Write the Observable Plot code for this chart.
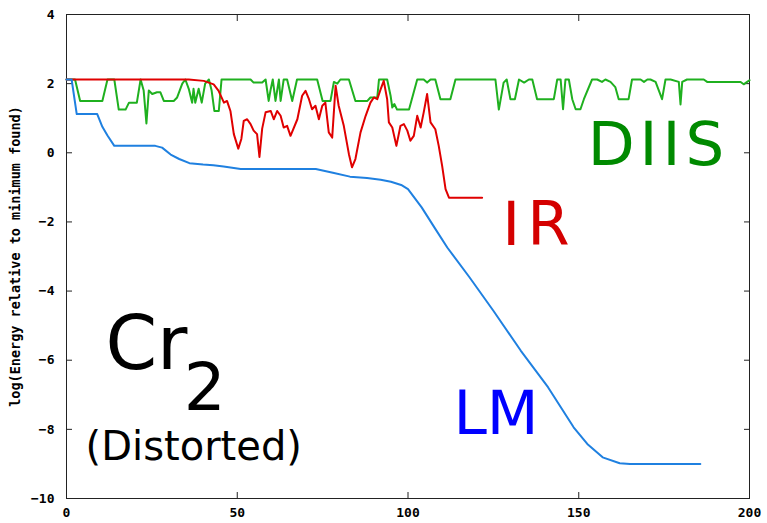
<!DOCTYPE html>
<html>
<head>
<meta charset="utf-8">
<script src="https://cdn.jsdelivr.net/npm/d3@7"></script>
<script src="https://cdn.jsdelivr.net/npm/@observablehq/plot@0.6"></script>
<style>
  html, body { margin: 0; padding: 0; background: #fff; }
  #chart svg { display: block; }
</style>
</head>
<body>
<div id="chart"></div>
<script>
// Iteration (x) and log energy (y) per method
const lmX = [0, 1.5, 3, 9, 10.5, 12, 14, 26, 28, 30.5, 33, 36, 40, 43, 46, 51, 73, 78, 83, 88, 92, 95, 98, 100, 104, 108, 111.5, 118, 125, 133, 141, 148.5, 152.5, 157, 162, 165, 185.6];
const lmY = [2.12, 2.12, 1.12, 1.12, 0.75, 0.5, 0.2, 0.2, 0.15, -0.05, -0.18, -0.30, -0.34, -0.36, -0.40, -0.47, -0.47, -0.58, -0.69, -0.73, -0.78, -0.84, -0.93, -1.05, -1.58, -2.2, -2.74, -3.6, -4.57, -5.72, -6.78, -7.94, -8.42, -8.81, -8.98, -9.0, -9.0];

const irX = [0, 35.8, 40.2, 43.1, 44.5, 46.1, 47, 48, 49, 50.3, 51.2, 51.9, 52.9, 53.9, 54.8, 55.8, 56.5, 57.3, 58.3, 59.8, 60.7, 61.7, 62.7, 63.6, 64.6, 65.6, 67.6, 69, 70, 71, 71.9, 72.9, 73.9, 74.9, 75.8, 76.8, 77.8, 78.8, 79.7, 81.2, 82.7, 83.6, 84.6, 86.1, 87.6, 89, 90, 91, 92, 92.9, 93.9, 94.4, 95.4, 96.6, 97.8, 98.8, 99.8, 100.7, 101.7, 102.7, 103.7, 104.6, 105.6, 106.6, 108, 109, 110, 111, 112, 121.7];
const irY = [2.12, 2.12, 2.08, 1.98, 1.8, 1.45, 1.5, 1.21, 0.54, 0.12, 0.4, 0.92, 0.97, 0.83, 0.64, 0.54, -0.12, 0.7, 1.17, 1.21, 0.97, 1.21, 1.07, 0.73, 0.78, 0.49, 0.97, 1.65, 1.79, 1.55, 1.26, 1.36, 0.97, 1.36, 1.45, 0.59, 0.44, 1.94, 1.36, 0.78, -0.04, -0.42, -0.18, 0.59, 1.07, 1.45, 1.6, 1.55, 1.84, 2.08, 1.55, 0.88, 0.73, 0.2, 0.78, 0.83, 0.64, 0.35, 0.49, 1.07, 0.73, 1.17, 1.7, 0.88, 0.68, 0.2, -0.38, -1.05, -1.3, -1.3];

const diisX = [0, 2.5, 4, 10.5, 12, 14, 15.3, 17.3, 18.3, 20.6, 21.7, 22.6, 23.4, 24.1, 25.1, 26.5, 27.5, 28.5, 31.4, 32.4, 33.9, 34.8, 35.8, 36.8, 37.2, 37.7, 38.7, 39.6, 40.6, 41.7, 42.5, 43.3, 44.6, 45.4, 53.9, 54.8, 57.3, 58.3, 59.2, 59.8, 60.4, 61.2, 62.2, 62.7, 63.6, 64.6, 66.1, 67.5, 73.4, 75, 77.3, 78.3, 79.3, 80.2, 82.7, 84.6, 88.1, 89, 91, 91.5, 93.9, 94.9, 95.4, 96, 96.8, 100.3, 102.7, 104.6, 105.6, 106.6, 108, 109.5, 112.4, 113.9, 125.6, 126.6, 128, 128.9, 130, 131.3, 132.5, 134, 135.4, 136.4, 137.8, 142.7, 143.7, 144.7, 145.4, 146.1, 147.1, 148.1, 149.1, 150.5, 151.5, 153.9, 155.4, 156.8, 157.8, 159.3, 160.7, 161.7, 164.6, 165.6, 168.1, 169.1, 170.1, 171, 172.5, 174.4, 175.4, 176.9, 179.3, 179.8, 180.3, 181.7, 186.6, 187.6, 197.4, 198.3, 199.3, 200];
const diisY = [2.12, 2.12, 1.5, 1.5, 2.12, 2.12, 1.25, 1.25, 1.45, 1.45, 2.12, 1.8, 0.85, 1.8, 1.7, 1.75, 1.75, 1.5, 1.5, 1.6, 2.0, 2.12, 1.85, 1.45, 1.85, 1.45, 1.85, 1.45, 2.0, 2.12, 1.8, 1.21, 1.21, 2.12, 2.12, 2.03, 2.03, 2.12, 1.5, 1.84, 2.12, 1.5, 2.12, 1.5, 2.12, 2.12, 1.5, 2.12, 2.12, 1.5, 1.5, 2.05, 2.0, 2.12, 2.12, 1.5, 1.5, 1.6, 1.6, 2.12, 2.12, 1.65, 1.31, 1.41, 1.25, 1.25, 2.12, 2.12, 2.03, 2.12, 2.12, 1.55, 1.55, 2.12, 2.12, 1.25, 2.03, 2.12, 1.55, 1.55, 2.12, 2.03, 2.12, 2.12, 1.55, 1.55, 2.12, 2.12, 1.26, 2.12, 2.12, 1.55, 1.26, 1.26, 1.55, 2.12, 2.12, 2.05, 2.12, 2.05, 1.9, 1.55, 1.55, 2.12, 2.12, 2.05, 2.12, 2.12, 2.05, 1.55, 2.12, 2.12, 2.05, 1.4, 2.05, 2.12, 2.12, 2.05, 2.05, 1.98, 2.05, 2.1];

const xTicks = [0, 50, 100, 150, 200];
const yTicks = [-10, -8, -6, -4, -2, 0, 2, 4];
const yLabel = "log(Energy relative to minimum found)";

// Annotations: text, anchor point in data units
const labelText = ["DIIS", "IR", "LM", "Cr", "2", "(Distorted)"];
const labelX = [152.6, 127.6, 113.3, 11.4, 34.3, 5.6];
const labelY = [-0.35, -2.66, -8.12, -6.24, -7.45, -8.88];
const labelColor = ["#008a00", "#d40000", "#0000ff", "#000000", "#000000", "#000000"];
const labelSize = [61, 61, 60, 74, 66, 40];
const labelSpacing = [5, 7, 0, 0, 0, 0];

const toRows = (xs, ys) => xs.map((x, i) => ({x, y: ys[i]}));
const labels = labelText.map((t, i) => ({t, x: labelX[i], y: labelY[i], c: labelColor[i], s: labelSize[i]}));

const tickFont = "DejaVu Sans Mono, monospace";

const chart = Plot.plot({
  width: 767,
  height: 523,
  marginLeft: 66,
  marginRight: 18,
  marginTop: 14,
  marginBottom: 25,
  style: {background: "#fff", fontFamily: tickFont},
  x: {domain: [0, 200]},
  y: {domain: [-10, 4]},
  marks: [
    Plot.frame({stroke: "#222", strokeWidth: 1}),
    Plot.axisX(xTicks, {anchor: "bottom", tickSize: -6, tickPadding: 15, label: null, fontSize: 13, fontWeight: "bold", stroke: "#222"}),
    Plot.axisX(xTicks, {anchor: "top", tickSize: -6, tickFormat: () => "", label: null, stroke: "#222"}),
    Plot.axisY(yTicks, {anchor: "left", tickSize: -6, tickPadding: 18, label: null, fontSize: 13, fontWeight: "bold", stroke: "#222"}),
    Plot.axisY(yTicks, {anchor: "right", tickSize: -6, tickFormat: () => "", label: null, stroke: "#222"}),
    Plot.text([yLabel], {frameAnchor: "left", textAnchor: "middle", rotate: -90, dx: -51, fontSize: 13.5, fontWeight: "bold", fill: "#000"}),
    Plot.line(toRows(diisX, diisY), {x: "x", y: "y", stroke: "#1fb01f", strokeWidth: 2}),
    Plot.line(toRows(irX, irY), {x: "x", y: "y", stroke: "#e00000", strokeWidth: 2}),
    Plot.line(toRows(lmX, lmY), {x: "x", y: "y", stroke: "#1f80e0", strokeWidth: 2}),
    Plot.text(labels, {x: "x", y: "y", text: "t", fill: "c", fontSize: "s", textAnchor: "start", lineAnchor: "bottom", fontFamily: "DejaVu Sans, sans-serif"})
  ]
});
// widen the annotation lettering a little (reference uses a wider face)
d3.select(chart).selectAll("text").each(function () {
  const i = labelText.indexOf(this.textContent);
  if (i >= 0 && labelSpacing[i]) this.setAttribute("letter-spacing", labelSpacing[i]);
});
document.getElementById("chart").appendChild(chart);
</script>
</body>
</html>
